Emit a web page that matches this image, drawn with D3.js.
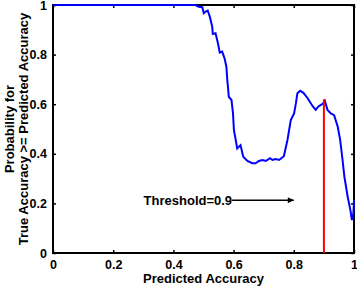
<!DOCTYPE html>
<html>
<head>
<meta charset="utf-8">
<script src="https://cdn.jsdelivr.net/npm/d3@7"></script>
<style>
  body { margin: 0; background: #fff; }
  svg { display: block; }
  text { font-family: "Liberation Sans", Arial, sans-serif; font-weight: bold; fill: #000; }
</style>
</head>
<body>
<div id="chart"></div>
<script>
// predicted accuracy (x) and probability (y)
const predAcc = [0, 0.473, 0.484, 0.496, 0.501, 0.507, 0.514, 0.521, 0.529, 0.531, 0.540, 0.548, 0.554,
  0.562, 0.570, 0.576, 0.579, 0.582, 0.584, 0.593, 0.598, 0.601, 0.607, 0.612, 0.623, 0.632, 0.646,
  0.662, 0.673, 0.684, 0.696, 0.707, 0.721, 0.729, 0.740, 0.751, 0.767, 0.779, 0.790, 0.801, 0.807,
  0.812, 0.821, 0.832, 0.846, 0.862, 0.873, 0.881, 0.890, 0.896, 0.903, 0.912, 0.923, 0.934, 0.946,
  0.954, 0.962, 0.968, 0.979, 0.988, 0.993, 0.998, 1.0];
const probTrue = [1, 1, 0.993, 0.991, 0.967, 0.973, 0.977, 0.953, 0.912, 0.883, 0.886, 0.846, 0.808,
  0.812, 0.785, 0.751, 0.698, 0.660, 0.630, 0.617, 0.563, 0.496, 0.456, 0.422, 0.435, 0.388, 0.371,
  0.362, 0.362, 0.371, 0.375, 0.371, 0.382, 0.375, 0.379, 0.375, 0.390, 0.456, 0.536, 0.563, 0.604,
  0.644, 0.654, 0.646, 0.624, 0.593, 0.577, 0.590, 0.597, 0.601, 0.614, 0.577, 0.563, 0.556, 0.509,
  0.456, 0.375, 0.308, 0.227, 0.173, 0.133, 0.160, 0.214];

const xTicks = [0, 0.2, 0.4, 0.6, 0.8, 1];
const xTickLabels = ["0", "0.2", "0.4", "0.6", "0.8", "1"];
const yTicks = [0, 0.2, 0.4, 0.6, 0.8, 1];
const yTickLabels = ["0", "0.2", "0.4", "0.6", "0.8", "1"];

const threshold = 0.9;
const thresholdProb = 0.62;
const arrowStart = 0.595, arrowEnd = 0.8, arrowY = 0.213;

const data = predAcc.map((x, i) => ({ x: x, y: probTrue[i] }));

const margin = { top: 5, right: 3, bottom: 33, left: 53 };
const W = 357, H = 286;
const width = W - margin.left - margin.right;
const height = H - margin.top - margin.bottom;

const x = d3.scaleLinear().domain([0, 1]).range([0, width]);
const y = d3.scaleLinear().domain([0, 1]).range([height, 0]);

const svg = d3.select('#chart').append('svg')
  .attr('width', W).attr('height', H)
  .append('g')
  .attr('transform', `translate(${margin.left},${margin.top})`);

const fmtX = d => xTickLabels[xTicks.indexOf(d)];
const fmtY = d => yTickLabels[yTicks.indexOf(d)];

function styleAxis(g) {
  g.select('.domain').remove();
  g.selectAll('line').attr('stroke', '#000').attr('stroke-width', 1.5);
  g.selectAll('text').style('font-size', '12.5px');
}

svg.append('g').attr('transform', `translate(0,${height})`)
  .call(d3.axisBottom(x).tickValues(xTicks).tickFormat(fmtX).tickSizeInner(-3).tickSizeOuter(0).tickPadding(7))
  .call(styleAxis);
svg.append('g')
  .call(d3.axisTop(x).tickValues(xTicks).tickFormat('').tickSizeInner(-3).tickSizeOuter(0))
  .call(styleAxis);
svg.append('g')
  .call(d3.axisLeft(y).tickValues(yTicks).tickFormat(fmtY).tickSizeInner(-3).tickSizeOuter(0).tickPadding(6))
  .call(styleAxis);
svg.append('g').attr('transform', `translate(${width},0)`)
  .call(d3.axisRight(y).tickValues(yTicks).tickFormat('').tickSizeInner(-3).tickSizeOuter(0))
  .call(styleAxis);

svg.append('rect')
  .attr('width', width).attr('height', height)
  .attr('fill', 'none').attr('stroke', '#000').attr('stroke-width', 2);

const line = d3.line().x(d => x(d.x)).y(d => y(d.y));

svg.append('path')
  .datum(data)
  .attr('d', line)
  .attr('fill', 'none')
  .attr('stroke', '#0000ff')
  .attr('stroke-width', 2);

// threshold marker
svg.append('line')
  .attr('x1', x(threshold)).attr('x2', x(threshold))
  .attr('y1', y(0)).attr('y2', y(thresholdProb))
  .attr('stroke', '#ff0000').attr('stroke-width', 2);

svg.append('defs').append('marker')
  .attr('id', 'arrow')
  .attr('viewBox', '0 0 10 10')
  .attr('refX', 10).attr('refY', 5)
  .attr('markerWidth', 8).attr('markerHeight', 6)
  .attr('markerUnits', 'userSpaceOnUse')
  .attr('orient', 'auto')
  .append('path').attr('d', 'M0,0L10,5L0,10Z').attr('fill', '#000');

svg.append('line')
  .attr('x1', x(arrowStart)).attr('x2', x(arrowEnd))
  .attr('y1', y(arrowY)).attr('y2', y(arrowY))
  .attr('stroke', '#000').attr('stroke-width', 1.5)
  .attr('marker-end', 'url(#arrow)');

svg.append('text')
  .attr('x', x(arrowStart)).attr('y', y(arrowY) + 4.5)
  .attr('text-anchor', 'end')
  .style('font-size', '13px')
  .text('Threshold=0.9');

// axis labels
svg.append('text')
  .attr('x', width / 2).attr('y', height + 30)
  .attr('text-anchor', 'middle')
  .style('font-size', '13px')
  .text('Predicted Accuracy');

const yLab = svg.append('text')
  .attr('transform', `translate(${-margin.left + 14},${height / 2}) rotate(-90)`)
  .attr('text-anchor', 'middle')
  .style('font-size', '13px');
yLab.append('tspan').attr('x', 0).attr('dy', 0).text('Probability for');
yLab.append('tspan').attr('x', 0).attr('dy', 14).text('True Accuracy >= Predicted Accuracy');
</script>
</body>
</html>
